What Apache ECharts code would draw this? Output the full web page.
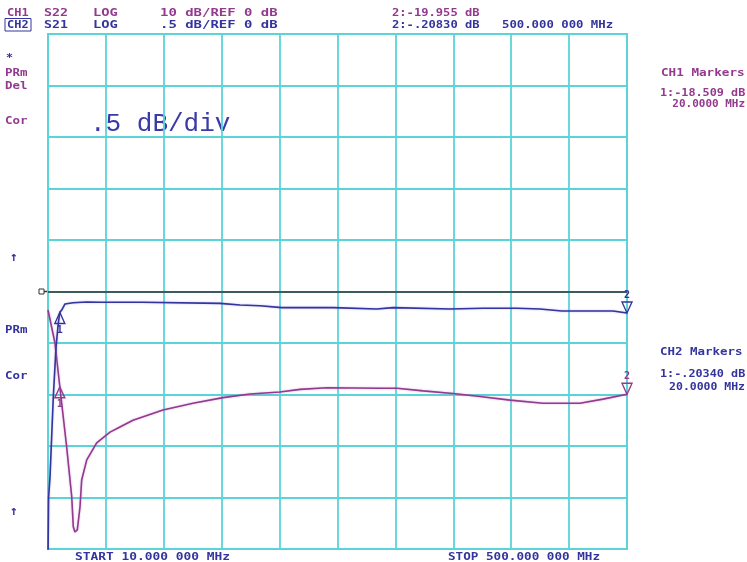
<!DOCTYPE html>
<html>
<head>
<meta charset="utf-8">
<script src="https://cdn.jsdelivr.net/npm/echarts@6/dist/echarts.min.js"></script>
<style>
  html, body { margin: 0; padding: 0; background: #fff; }
  #chart { width: 747px; height: 562px; }
</style>
</head>
<body>
<div id="chart"></div>
<script>
// CH2 S21 trace (0.5 dB/div, ref 0 dB)
const freqS21 = [10, 10.5, 11.7, 14.5, 16.8, 18.7, 20, 21.6, 24.4, 31.2, 42.8, 54, 89.3, 155.6, 172.5, 189.5, 207.8, 251.2, 288.2, 302, 350.2, 378.2, 406.7, 426.4, 444.8, 488.2, 500];
const s21 = [-2.6, -2.0, -1.8, -1.02, -0.54, -0.31, -0.2034, -0.18, -0.121, -0.109, -0.102, -0.105, -0.105, -0.115, -0.131, -0.138, -0.157, -0.157, -0.170, -0.157, -0.170, -0.163, -0.163, -0.170, -0.189, -0.189, -0.2083];

// CH1 S22 trace (10 dB/div, ref 0 dB)
const freqS22 = [10, 15.9, 20, 25.8, 30.1, 31.4, 32.8, 34.8, 37.1, 38.5, 42.8, 51.2, 62.5, 70.9, 81.9, 107.3, 132.7, 158.1, 181, 206.3, 223.3, 246.1, 291, 305.4, 327.4, 352.8, 375.6, 401, 428.9, 460.2, 479.7, 500];
const s22 = [-3.6, -10.0, -18.5, -30.2, -39.9, -45.7, -46.7, -46.3, -41.8, -36.6, -32.7, -29.4, -27.3, -26.3, -25.0, -23.0, -21.7, -20.6, -19.9, -19.5, -19.0, -18.7, -18.8, -18.8, -19.3, -19.8, -20.4, -21.1, -21.7, -21.7, -20.9, -19.955];

// markers
const markerFreq = [20, 500];
const markerS21 = [-0.2034, -0.2083];
const markerS22 = [-18.509, -19.955];

const PURPLE = '#933a8f';
const BLUE = '#34349e';
const CYAN = '#5ad4d8';

let myChart = echarts.init(document.getElementById('chart'));

function txt(x, y, s, color, cw, align) {
  return {
    type: 'text', x: x, y: y, scaleX: cw / 6.62, silent: true,
    style: { text: s, fill: color, font: 'bold 11px "DejaVu Sans Mono"', textAlign: align || 'left', textVerticalAlign: 'middle' }
  };
}

function markers(vals, color) {
  return vals.map((v, i) => {
    const up = i === 0;
    return {
      coord: [markerFreq[i], v],
      symbol: up ? 'path://M5,0 L10,10 L0,10 Z' : 'path://M0,0 L10,0 L5,10 Z',
      symbolSize: [10, 11],
      symbolOffset: [0, up ? '50%' : '-50%'],
      itemStyle: { color: 'rgba(0,0,0,0)', borderColor: color, borderWidth: 1.4 },
      label: {
        show: true, formatter: String(i + 1), position: up ? 'bottom' : 'top', distance: 1,
        color: color, fontSize: 10, fontWeight: 'bold', fontFamily: 'DejaVu Sans Mono'
      }
    };
  });
}

let option = {
  backgroundColor: '#fff',
  animation: false,
  grid: { left: 48, right: 120, top: 34, bottom: 13, show: true, borderColor: CYAN, borderWidth: 2 },
  xAxis: [
    { // divisions only
      type: 'value', min: 0, max: 10, interval: 1,
      axisLine: { show: false }, axisTick: { show: false }, axisLabel: { show: false },
      splitLine: { show: true, lineStyle: { color: CYAN, width: 1.8 } }
    },
    {
      type: 'value', min: 10, max: 500, show: false, splitLine: { show: false }
    }
  ],
  yAxis: [
    {
      type: 'value', min: -2.5, max: 2.5, interval: 0.5,
      axisLine: { show: false }, axisTick: { show: false }, axisLabel: { show: false },
      splitLine: { show: true, lineStyle: { color: CYAN, width: 1.8 } }
    },
    {
      type: 'value', min: -50, max: 50, interval: 10, show: false, splitLine: { show: false }
    }
  ],
  series: [
    {
      name: 'S22', type: 'line', xAxisIndex: 1, yAxisIndex: 1,
      data: freqS22.map((f, i) => [f, s22[i]]),
      showSymbol: false, z: 3,
      lineStyle: { color: PURPLE, width: 1.6, shadowColor: 'rgba(190,120,200,0.6)', shadowBlur: 2 },
      markPoint: { data: markers(markerS22, PURPLE) }
    },
    {
      name: 'S21', type: 'line', xAxisIndex: 1, yAxisIndex: 0,
      data: freqS21.map((f, i) => [f, s21[i]]),
      showSymbol: false, z: 4,
      lineStyle: { color: BLUE, width: 1.6, shadowColor: 'rgba(140,140,220,0.6)', shadowBlur: 2 },
      markLine: {
        silent: true, symbol: ['none', 'none'], label: { show: false },
        lineStyle: { color: '#333', width: 1.5, type: 'solid' },
        data: [{ yAxis: 0 }]
      },
      markPoint: { data: markers(markerS21, BLUE) }
    }
  ],
  graphic: [
    // header
    txt(7, 13, 'CH1', PURPLE, 7.2),
    { type: 'line', silent: true, shape: { x1: 6, y1: 18.5, x2: 29, y2: 18.5 }, style: { stroke: PURPLE, lineWidth: 1 } },
    txt(44, 13, 'S22', PURPLE, 8),
    txt(93, 13, 'LOG', PURPLE, 8.3),
    txt(160, 13, '10 dB/REF 0 dB', PURPLE, 8.4),
    txt(392, 13, '2:-19.955 dB', PURPLE, 7.3),
    txt(7, 25, 'CH2', BLUE, 7.2),
    { type: 'rect', silent: true, shape: { x: 5, y: 18.5, width: 26, height: 12.5 }, style: { fill: 'none', stroke: BLUE, lineWidth: 1 } },
    txt(44, 25, 'S21', BLUE, 8),
    txt(93, 25, 'LOG', BLUE, 8.3),
    txt(160, 25, '.5 dB/REF 0 dB', BLUE, 8.4),
    txt(392, 25, '2:-.20830 dB', BLUE, 7.3),
    txt(502, 25, '500.000 000 MHz', BLUE, 7.4),
    // left annotations
    txt(6, 58, '*', BLUE, 7),
    txt(5, 73, 'PRm', PURPLE, 7.5),
    txt(5, 86, 'Del', PURPLE, 7.5),
    txt(5, 121, 'Cor', PURPLE, 7.5),
    {
      type: 'text', x: 14, y: 258, silent: true,
      style: { text: '↑', fill: BLUE, font: 'bold 13px "DejaVu Sans Mono"', textAlign: 'center', textVerticalAlign: 'middle' }
    },
    txt(5, 330, 'PRm', BLUE, 7.5),
    txt(5, 376, 'Cor', BLUE, 7.5),
    {
      type: 'text', x: 14, y: 512, silent: true,
      style: { text: '↑', fill: BLUE, font: 'bold 13px "DejaVu Sans Mono"', textAlign: 'center', textVerticalAlign: 'middle' }
    },
    // reference marker at left end of the ref line
    { type: 'line', silent: true, shape: { x1: 42, y1: 291.5, x2: 48, y2: 291.5 }, style: { stroke: '#333', lineWidth: 1.5 } },
    { type: 'rect', silent: true, shape: { x: 39, y: 289, width: 5, height: 5 }, style: { fill: '#fff', stroke: '#333', lineWidth: 1 } },
    // scale annotation
    {
      type: 'text', x: 90, y: 124, silent: true,
      style: { text: '.5 dB/div', fill: '#3a3aa8', font: '26px "Liberation Mono"', textVerticalAlign: 'middle' }
    },
    // marker readouts
    txt(661, 73, 'CH1 Markers', PURPLE, 7.6),
    txt(660, 93, '1:-18.509 dB', PURPLE, 7.1),
    txt(745, 104, '20.0000 MHz', PURPLE, 6.6, 'right'),
    txt(660, 352, 'CH2 Markers', BLUE, 7.5),
    txt(660, 374, '1:-.20340 dB', BLUE, 7.1),
    txt(745, 387, '20.0000 MHz', BLUE, 6.9, 'right'),
    // sweep range
    txt(75, 557, 'START 10.000 000 MHz', BLUE, 7.75),
    txt(448, 557, 'STOP 500.000 000 MHz', BLUE, 7.6)
  ]
};

myChart.setOption(option);
</script>
</body>
</html>
